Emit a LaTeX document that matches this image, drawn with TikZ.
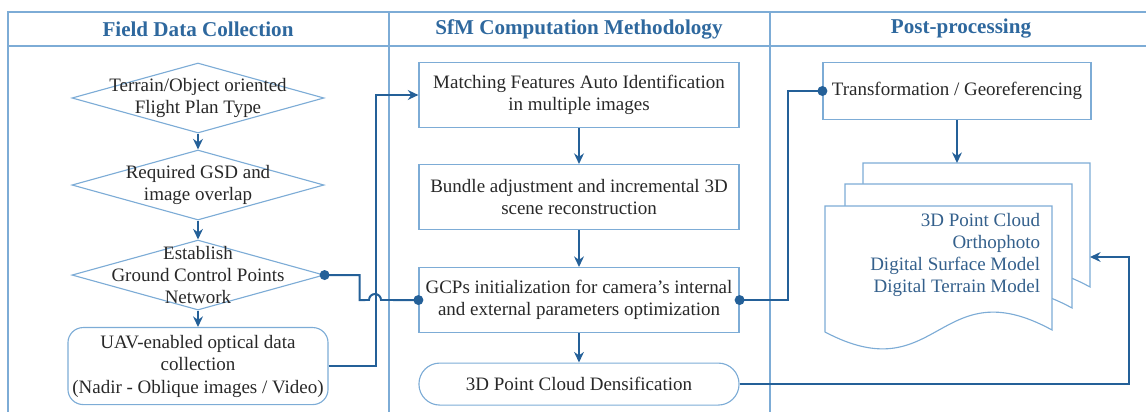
\documentclass[tikz,border=0pt]{standalone}
\usepackage{fontspec}
\setmainfont{Liberation Serif}
\usetikzlibrary{shapes.geometric, arrows.meta}
\definecolor{framec}{RGB}{125,172,214}
\definecolor{linec}{RGB}{36,96,152}
\definecolor{headc}{RGB}{46,104,158}
\definecolor{textc}{RGB}{40,40,40}
\definecolor{outc}{RGB}{52,96,140}
\tikzstyle{frame} = [draw=framec, line width=0.8pt]
\tikzstyle{heading} = [font=\fontsize{15}{18}\selectfont\bfseries, text=headc]
\tikzstyle{process} = [rectangle, minimum width=8cm, minimum height=1.625cm, text centered, align=center, draw=framec, line width=0.8pt, inner sep=1pt, text=textc, font=\fontsize{13.5}{16}\selectfont]
\tikzstyle{terminal} = [process, rounded corners=0.52cm, minimum height=1.05cm]
\tikzstyle{collect} = [process, rounded corners=0.38cm, minimum width=6.5cm, minimum height=1.925cm]
\tikzstyle{decision} = [diamond, minimum width=6.3cm, minimum height=1.75cm, draw=framec, line width=0.8pt, inner sep=0pt]
\tikzstyle{dtext} = [align=center, text=textc, font=\fontsize{13.5}{15.6}\selectfont]
\tikzstyle{docpage} = [draw=framec, line width=0.8pt, fill=white]
\tikzstyle{outtext} = [align=right, text=outc, font=\fontsize{13.5}{15.6}\selectfont]
\tikzstyle{arrow} = [draw=linec, line width=1.4pt, ->]
\tikzstyle{dotline} = [draw=linec, line width=1.4pt, {Circle[length=7pt, sep=-3.5pt]}-{Circle[length=7pt, sep=-3.5pt]}]
\begin{document}
\begin{tikzpicture}[x=0.025cm, y=-0.025cm, >={Stealth[length=7.5pt, width=7pt]}]

	\useasboundingbox (0,0) rectangle (1146,412);

	% swimlanes
	\draw [frame] (1146,12) -- (8,12) -- (8,412);
	\draw [frame] (8,46) -- (1146,46);
	\draw [frame] (389,12) -- (389,412);
	\draw [frame] (770,12) -- (770,412);
	\node (hfield) [heading] at (198,29) {Field Data Collection};
	\node (hsfm) [heading] at (579,29) {SfM Computation Methodology};
	\node (hpost) [heading] at (961,29) {Post-processing};

	% field data collection
	\node (plan) [decision, label={[dtext]center:Terrain/Object oriented\\Flight Plan Type}] at (198,98) {};
	\node (gsd) [decision, below of=plan, node distance=2.175cm, label={[dtext]center:Required GSD and\\image overlap}] {};
	\node (gcp) [decision, below of=gsd, node distance=2.25cm, label={[dtext]center:Establish\\Ground Control Points\\Network}] {};
	\node (uav) [collect, below of=gcp, node distance=2.275cm] {UAV-enabled optical data\\collection\\(Nadir - Oblique images / Video)};

	% sfm computation
	\node (match) [process] at (579,95) {Matching Features Auto Identification\\in multiple images};
	\node (bundle) [process, below of=match, node distance=2.55cm] {Bundle adjustment and incremental 3D\\scene reconstruction};
	\node (gcpinit) [process, below of=bundle, node distance=2.575cm] {GCPs initialization for camera's internal\\and external parameters optimization};
	\node (dense) [terminal, below of=gcpinit, node distance=2.1cm] {3D Point Cloud Densification};

	% post-processing
	\node (geo) [process, minimum width=6.7cm, minimum height=1.425cm] at (957,91) {Transformation / Georeferencing};
	\foreach \dx/\dy in {863/163, 845/184, 825/206}
		\draw [docpage, shift={(\dx,\dy)}] (0,0) -- (227,0) -- (227,124) .. controls (113.5,62) and (113.5,186) .. (0,126) -- cycle;
	\coordinate (docs) at (957,163);
	\coordinate (docsin) at (1090,257);
	\node (products) [outtext, anchor=east] at (1045,255) {3D Point Cloud\\Orthophoto\\Digital Surface Model\\Digital Terrain Model};

	\draw [arrow] (plan) -- (gsd);
	\draw [arrow] (gsd) -- (gcp);
	\draw [arrow] (gcp) -- (uav);
	\draw [arrow] (uav.east) -- +(47,0) |- (match.west);
	\draw [dotline] (gcp.east) -- +(35,0) -- +(35,25) -- (369,300) arc (180:360:6) -- (gcpinit.west);

	\draw [arrow] (match) -- (bundle);
	\draw [arrow] (bundle) -- (gcpinit);
	\draw [arrow] (gcpinit) -- (dense);
	\draw [dotline] (gcpinit.east) -- +(48,0) |- (geo.west);
	\draw [arrow] (geo) -- (docs);
	\draw [arrow] (dense.east) -- +(389,0) |- (docsin);

\end{tikzpicture}
\end{document}
